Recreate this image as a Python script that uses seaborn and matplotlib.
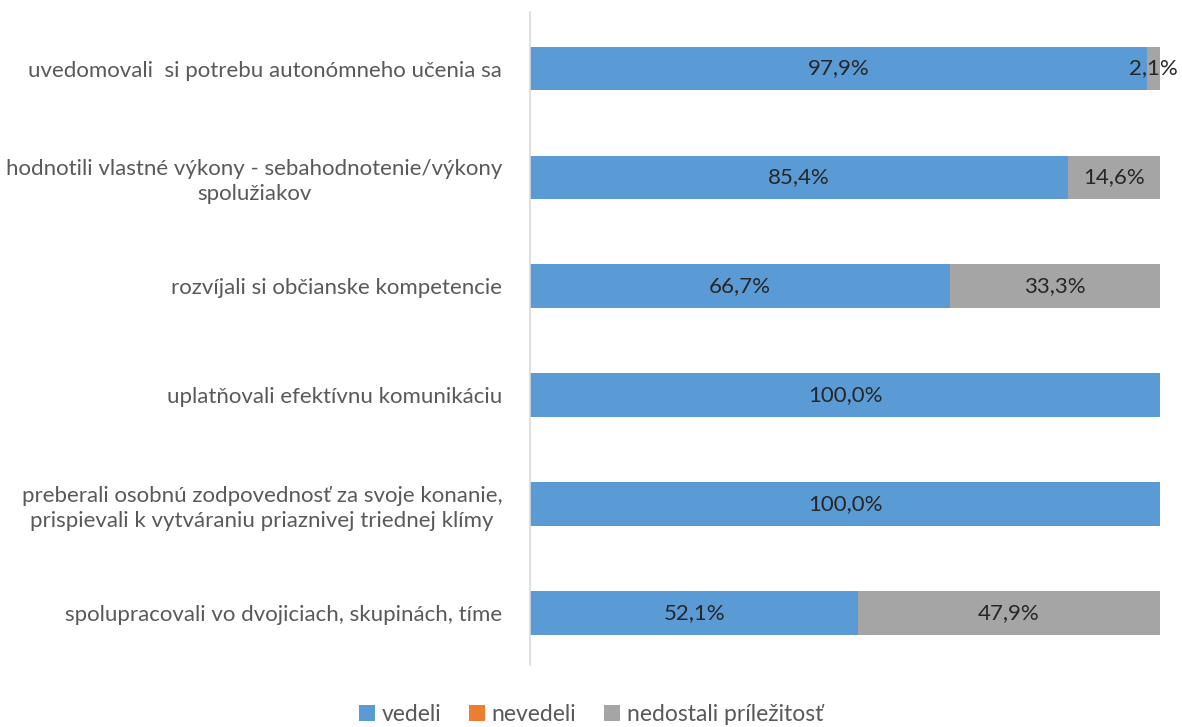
import numpy as np
import pandas as pd
import matplotlib
matplotlib.use("Agg")
import matplotlib.pyplot as plt
from matplotlib.patches import Patch
import seaborn as sns

# data
categories = [
    "uvedomovali  si potrebu autonómneho učenia sa",
    "hodnotili vlastné výkony - sebahodnotenie/výkony\nspolužiakov",
    "rozvíjali si občianske kompetencie",
    "uplatňovali efektívnu komunikáciu",
    "preberali osobnú zodpovednosť za svoje konanie,\nprispievali k vytváraniu priaznivej triednej klímy",
    "spolupracovali vo dvojiciach, skupinách, tíme",
]
vedeli = [97.9, 85.4, 66.7, 100.0, 100.0, 52.1]
nevedeli = [0.0, 0.0, 0.0, 0.0, 0.0, 0.0]
nedostali = [2.1, 14.6, 33.3, 0.0, 0.0, 47.9]
series_names = ["vedeli", "nevedeli", "nedostali príležitosť"]
colors = ["#5B9BD5", "#ED7D31", "#A5A5A5"]

df = pd.DataFrame({"kat": categories, "vedeli": vedeli,
                   "nevedeli": nevedeli, "nedostali": nedostali})
df["c1"] = df["vedeli"]
df["c2"] = df["c1"] + df["nevedeli"]
df["c3"] = df["c2"] + df["nedostali"]

sns.set_style("white")
plt.rcParams["font.family"] = ["Lato", "DejaVu Sans"]

fig = plt.figure(figsize=(11.82, 7.27), dpi=100)
ax = fig.add_axes([0.4484, 0.0853, 0.5330, 0.8982])

# stacked: draw cumulative totals from the back to the front
for col, c in zip(["c3", "c2", "c1"], colors[::-1]):
    sns.barplot(data=df, x=col, y="kat", color=c, orient="h",
                width=0.4, saturation=1, ax=ax, linewidth=0)

ax.set_xlim(0, 100)
ax.set_ylim(5.48, -0.52)
ax.set_xlabel("")
ax.set_ylabel("")
ax.set_xticks([])
for s in ["top", "right", "bottom"]:
    ax.spines[s].set_visible(False)
ax.spines["left"].set_color("#D9D9D9")
ax.spines["left"].set_linewidth(1.2)
ax.tick_params(axis="y", length=0, pad=20)
for lab in ax.get_yticklabels():
    lab.set_multialignment("center")
    lab.set_fontsize(16)
    lab.set_color("#595959")
    lab.set_linespacing(1.3)

def fmt(v):
    return f"{v:.1f}".replace(".", ",") + "%"

for i in range(len(categories)):
    if vedeli[i] > 0:
        ax.text(vedeli[i] / 2, i, fmt(vedeli[i]), ha="center", va="center",
                fontsize=16, color="#262626")
    if nedostali[i] > 0:
        x = df["c2"][i] + nedostali[i] / 2
        ax.text(x, i, fmt(nedostali[i]), ha="center", va="center",
                fontsize=16, color="#262626")

handles = [Patch(facecolor=c, edgecolor="none") for c in colors]
fig.legend(handles, series_names, loc="lower center", ncol=3,
           bbox_to_anchor=(0.5, -0.025), frameon=False, fontsize=16.5,
           handlelength=0.7, handleheight=0.7, handletextpad=0.3,
           columnspacing=1.2, labelcolor="#595959")

fig.savefig("out.png", dpi=100)
